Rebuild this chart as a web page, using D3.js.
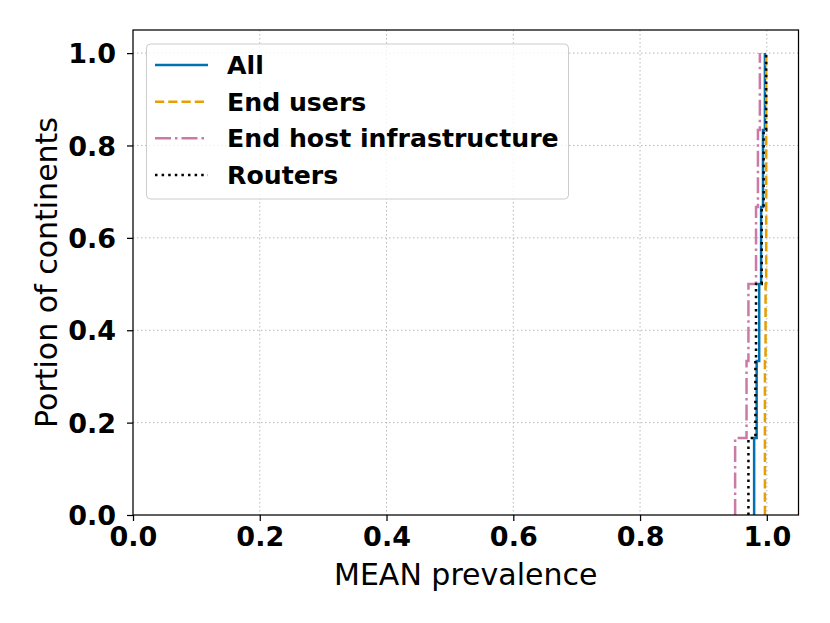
<!DOCTYPE html>
<html>
<head>
<meta charset="utf-8">
<script src="https://cdn.jsdelivr.net/npm/d3@7"></script>
<style>
  body { margin: 0; background: #fff; }
  text { font-family: "DejaVu Sans", sans-serif; }
</style>
</head>
<body>
<script>
// mean prevalence per continent (6 continents), sorted
const allValues = [0.980, 0.984, 0.988, 0.991, 0.994, 0.997];
const endUsers = [0.997, 0.997, 0.998, 0.999, 0.999, 0.999];
const endHostInfra = [0.950, 0.968, 0.971, 0.983, 0.986, 0.989];
const routers = [0.971, 0.982, 0.983, 0.992, 0.995, 0.999];

const seriesNames = ["All", "End users", "End host infrastructure", "Routers"];
const seriesColors = ["#0072B2", "#E69F00", "#CC79A7", "#000000"];
const seriesDash = [null, "9.25,4", "16,4,2.5,4", "2.5,4.1"];
const xTicks = [0, 0.2, 0.4, 0.6, 0.8, 1.0];
const yTicks = [0, 0.2, 0.4, 0.6, 0.8, 1.0];

const W = 830, H = 623;
const plotLeft = 133, plotRight = 798.5, plotTop = 30, plotBottom = 515;

const svg = d3.select("body").append("svg")
    .attr("width", W)
    .attr("height", H);

const x = d3.scaleLinear().domain([0, 1.05]).range([plotLeft, plotRight]);
const y = d3.scaleLinear().domain([0, 1.05]).range([plotBottom, plotTop]);

// grid
const grid = svg.append("g");
grid.selectAll(".gx").data(xTicks.slice(1)).enter().append("line")
    .attr("x1", d => x(d)).attr("x2", d => x(d))
    .attr("y1", plotTop).attr("y2", plotBottom)
    .attr("stroke", "#b8b8b8").attr("stroke-width", 1)
    .attr("stroke-dasharray", "1.5,2.5");
grid.selectAll(".gy").data(yTicks.slice(1)).enter().append("line")
    .attr("y1", d => y(d)).attr("y2", d => y(d))
    .attr("x1", plotLeft).attr("x2", plotRight)
    .attr("stroke", "#b8b8b8").attr("stroke-width", 1)
    .attr("stroke-dasharray", "1.5,2.5");

// ecdf step lines
const line = d3.line()
    .x(d => x(d[0]))
    .y(d => y(d[1]))
    .curve(d3.curveStepAfter);

const series = [allValues, endUsers, endHostInfra, routers];
series.forEach((vals, i) => {
    const n = vals.length;
    const pts = [[vals[0], 0]].concat(vals.map((v, j) => [v, (j + 1) / n]));
    svg.append("path")
        .attr("d", line(pts))
        .attr("fill", "none")
        .attr("stroke", seriesColors[i])
        .attr("stroke-width", 2.5)
        .attr("stroke-dasharray", seriesDash[i]);
});

// axes
const xAxis = svg.append("g")
    .attr("transform", "translate(0," + plotBottom + ")")
    .call(d3.axisBottom(x).tickValues(xTicks).tickFormat(d3.format(".1f")).tickSizeOuter(0).tickSize(6).tickPadding(6));
const yAxis = svg.append("g")
    .attr("transform", "translate(" + plotLeft + ",0)")
    .call(d3.axisLeft(y).tickValues(yTicks).tickFormat(d3.format(".1f")).tickSizeOuter(0).tickSize(6).tickPadding(11));
[xAxis, yAxis].forEach(a => {
    a.select(".domain").remove();
    a.selectAll("line").attr("stroke", "#000").attr("stroke-width", 1.25);
    a.selectAll("text")
        .attr("font-family", "DejaVu Sans")
        .attr("font-size", 27)
        .attr("font-weight", "bold")
        .attr("fill", "#000");
});
yAxis.selectAll("text").attr("dy", "0.36em");

// frame
svg.append("rect")
    .attr("x", plotLeft).attr("y", plotTop)
    .attr("width", plotRight - plotLeft).attr("height", plotBottom - plotTop)
    .attr("fill", "none").attr("stroke", "#000").attr("stroke-width", 1.25);

// axis labels
svg.append("text")
    .attr("x", (plotLeft + plotRight) / 2).attr("y", 585)
    .attr("text-anchor", "middle")
    .attr("font-size", 30)
    .text("MEAN prevalence");
svg.append("text")
    .attr("transform", "translate(57," + (plotTop + plotBottom) / 2 + ") rotate(-90)")
    .attr("text-anchor", "middle")
    .attr("font-size", 30)
    .text("Portion of continents");

// legend
const lg = svg.append("g");
lg.append("rect")
    .attr("x", 146.5).attr("y", 44)
    .attr("width", 422).attr("height", 155)
    .attr("rx", 4)
    .attr("fill", "#fff").attr("fill-opacity", 0.8)
    .attr("stroke", "#cccccc").attr("stroke-width", 1);
const rowY = [65, 101.7, 138.3, 175];
seriesNames.forEach((name, i) => {
    lg.append("line")
        .attr("x1", 155).attr("x2", 208)
        .attr("y1", rowY[i]).attr("y2", rowY[i])
        .attr("stroke", seriesColors[i])
        .attr("stroke-width", 2.5)
        .attr("stroke-dasharray", seriesDash[i]);
    lg.append("text")
        .attr("x", 227).attr("y", rowY[i])
        .attr("dy", "0.36em")
        .attr("font-size", 25.2)
        .attr("font-weight", "bold")
        .text(name);
});
</script>
</body>
</html>
